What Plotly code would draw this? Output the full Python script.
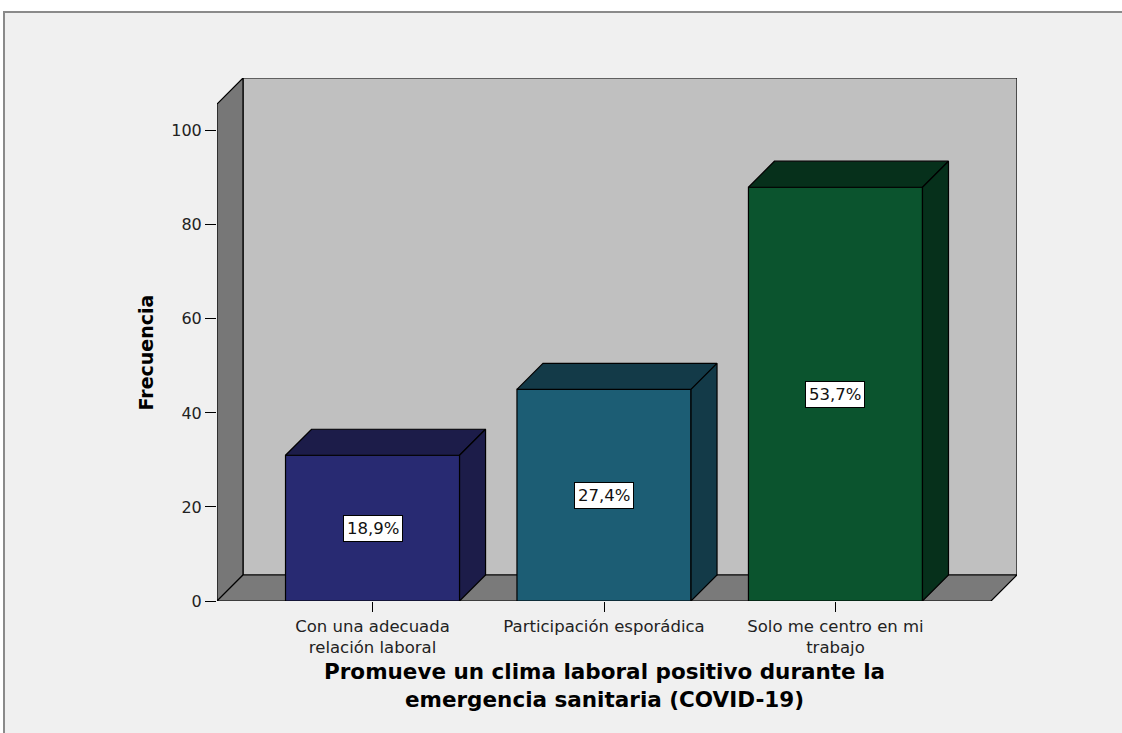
import plotly.graph_objects as go

# ---- data ----
categories = ["Con una adecuada<br>relación laboral", "Participación esporádica", "Solo me centro en mi<br>trabajo"]
frequencies = [31, 45, 88]
pct_labels = ["18,9%", "27,4%", "53,7%"]
front_colors = ["#282A72", "#1C5D74", "#0B542E"]
dark_colors = ["#1C1C49", "#133A48", "#06301B"]
y_ticks = [0, 20, 40, 60, 80, 100]
x_title = "Promueve un clima laboral positivo durante la<br>emergencia sanitaria (COVID-19)"
y_title = "Frecuencia"

FONT = "DejaVu Sans, Verdana, sans-serif"

# ---- geometry (axis units) ----
x_lo, x_hi = -0.672, 2.672      # front edges of floor
dx, dy = 0.1123, 5.53           # 3D depth offset
wall_top = 105.7
bar_w = 0.752
xs = list(range(len(categories)))
plot_h_px = 523

fig = go.Figure()

def poly(px, py, fill, lw=1.2):
    fig.add_trace(go.Scatter(x=px + [px[0]], y=py + [py[0]], mode="lines", fill="toself",
                             fillcolor=fill, line=dict(color="#000000", width=lw),
                             hoverinfo="skip", showlegend=False))

# back wall
poly([x_lo + dx, x_hi + dx, x_hi + dx, x_lo + dx], [dy, dy, wall_top + dy, wall_top + dy], "#C0C0C0")
# left wall
poly([x_lo, x_lo, x_lo + dx, x_lo + dx], [0, wall_top, wall_top + dy, dy], "#777777")
# floor
poly([x_lo, x_hi, x_hi + dx, x_lo + dx], [0, 0, dy, dy], "#7A7A7A")

# bars
for i, v in enumerate(frequencies):
    l = xs[i] - bar_w / 2
    r = xs[i] + bar_w / 2
    poly([l, r, r, l], [0, 0, v, v], front_colors[i])
    poly([l, r, r + dx, l + dx], [v, v, v + dy, v + dy], dark_colors[i])
    poly([r, r + dx, r + dx, r], [0, dy, v + dy, v], dark_colors[i])
    fig.add_annotation(x=xs[i], y=v / 2, text=pct_labels[i], showarrow=False,
                       font=dict(family=FONT, size=16.5, color="#111111"),
                       bgcolor="#FFFFFF", bordercolor="#000000", borderwidth=1, borderpad=3)

# x-axis title
fig.add_annotation(xref="x", yref="paper", x=(xs[0] + xs[-1]) / 2,
                   y=-84 / plot_h_px, yanchor="middle",
                   text="<b>" + x_title + "</b>", showarrow=False,
                   font=dict(family=FONT, size=21.5, color="#000000"))

# y-axis title, centred on the front wall height
fig.add_annotation(xref="paper", yref="y", x=-72 / 800, y=wall_top / 2, xanchor="center",
                   yanchor="middle", textangle=-90, text="<b>" + y_title + "</b>", showarrow=False,
                   font=dict(family=FONT, size=19, color="#000000"))

# outer frame
fig.add_shape(type="rect", xref="paper", yref="paper", layer="below",
              x0=-213 / 800, x1=1.2, y0=-0.5, y1=(601 - 12) / plot_h_px,
              fillcolor="#F0F0F0", line=dict(color="#8A8A8A", width=2))

fig.update_layout(
    width=1122, height=733,
    margin=dict(l=217, r=105, t=78, b=132),
    paper_bgcolor="#FFFFFF", plot_bgcolor="rgba(0,0,0,0)",
    showlegend=False,
    xaxis=dict(range=[x_lo, x_hi + dx], tickmode="array", tickvals=xs, ticktext=categories,
               ticks="outside", ticklen=10, tickcolor="#000000", showgrid=False, zeroline=False,
               showline=False, tickfont=dict(family=FONT, size=16.5, color="#222222")),
    yaxis=dict(range=[0, wall_top + dy], tickmode="array", tickvals=y_ticks,
               ticks="outside", ticklen=11, tickcolor="#000000", showgrid=False, zeroline=False,
               showline=False, tickfont=dict(family=FONT, size=16, color="#222222")),
)

fig.write_html("out.html", config={"displayModeBar": False},
               post_script="document.body.style.margin='0px';")
